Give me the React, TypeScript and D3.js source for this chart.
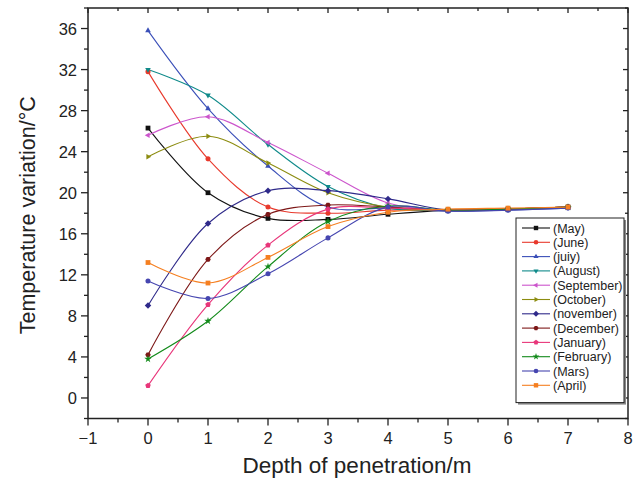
import { useEffect, useRef } from 'react';
import * as d3 from 'd3';

const DEPTHS = [0, 1, 2, 3, 4, 5, 6, 7];

const MONTHS = [
  '(May)', '(June)', '(juiy)', '(August)', '(September)', '(October)',
  '(november)', '(December)', '(January)', '(February)', '(Mars)', '(April)',
];

const COLORS = [
  '#111111', '#e8392c', '#3a4fb8', '#0f8a8a', '#cc55cc', '#8c8c10',
  '#2f2a8a', '#7d1818', '#e8367a', '#128a1a', '#4646b0', '#f57f20',
];

const SYMBOLS = [
  'square', 'circle', 'triUp', 'triDown', 'triLeft', 'triRight',
  'diamond', 'hexagon', 'pentagon', 'star', 'circle', 'square',
];

const MAY = [26.3, 20.0, 17.5, 17.4, 17.9, 18.3, 18.4, 18.6];
const JUNE = [31.8, 23.3, 18.6, 18.0, 18.3, 18.3, 18.4, 18.6];
const JULY = [35.8, 28.2, 22.6, 18.6, 18.5, 18.2, 18.3, 18.5];
const AUGUST = [32.0, 29.5, 24.7, 20.6, 18.5, 18.3, 18.4, 18.6];
const SEPTEMBER = [25.6, 27.4, 24.9, 21.9, 19.0, 18.3, 18.4, 18.6];
const OCTOBER = [23.5, 25.5, 22.9, 20.0, 18.6, 18.3, 18.4, 18.6];
const NOVEMBER = [9.0, 17.0, 20.2, 20.2, 19.4, 18.3, 18.4, 18.6];
const DECEMBER = [4.2, 13.5, 17.9, 18.8, 18.6, 18.3, 18.4, 18.6];
const JANUARY = [1.2, 9.1, 14.9, 18.4, 18.5, 18.3, 18.4, 18.6];
const FEBRUARY = [3.8, 7.5, 12.8, 17.2, 18.7, 18.3, 18.4, 18.6];
const MARS = [11.4, 9.7, 12.1, 15.6, 18.6, 18.2, 18.3, 18.5];
const APRIL = [13.2, 11.2, 13.7, 16.7, 18.1, 18.4, 18.5, 18.6];

const SERIES = [MAY, JUNE, JULY, AUGUST, SEPTEMBER, OCTOBER, NOVEMBER, DECEMBER, JANUARY, FEBRUARY, MARS, APRIL];

const X_TICKS = [-1, 0, 1, 2, 3, 4, 5, 6, 7, 8];
const Y_TICKS = [0, 4, 8, 12, 16, 20, 24, 28, 32, 36];

const W = 639;
const H = 479;
const FONT = 'Liberation Sans, Arial, sans-serif';

function symbolPath(kind: string, s: number): string {
  const poly = (n: number, rot: number, r: number) => {
    const pts: [number, number][] = [];
    for (let i = 0; i < n; i++) {
      const a = rot + (i * 2 * Math.PI) / n;
      pts.push([r * Math.cos(a), r * Math.sin(a)]);
    }
    return 'M' + pts.map((p) => p.join(',')).join('L') + 'Z';
  };
  switch (kind) {
    case 'square':
      return `M${-s},${-s}H${s}V${s}H${-s}Z`;
    case 'circle':
      return d3.symbol(d3.symbolCircle, Math.PI * s * s * 1.1)() as string;
    case 'triUp':
      return poly(3, -Math.PI / 2, s * 1.35);
    case 'triDown':
      return poly(3, Math.PI / 2, s * 1.35);
    case 'triLeft':
      return poly(3, Math.PI, s * 1.35);
    case 'triRight':
      return poly(3, 0, s * 1.35);
    case 'diamond':
      return poly(4, 0, s * 1.35);
    case 'hexagon':
      return poly(6, 0, s * 1.15);
    case 'pentagon':
      return poly(5, -Math.PI / 2, s * 1.2);
    case 'star':
      return d3.symbol(d3.symbolStar, s * s * 3)() as string;
    default:
      return `M${-s},${-s}H${s}V${s}H${-s}Z`;
  }
}

export default function App() {
  const svgRef = useRef<SVGSVGElement | null>(null);

  useEffect(() => {
    const svg = d3.select(svgRef.current);
    svg.selectAll('*').remove();

    const left = 88;
    const right = 628;
    const top = 8;
    const bottom = 418.5;

    const x = d3.scaleLinear().domain([-1, 8]).range([left, right]);
    const y = d3.scaleLinear().domain([-2, 38]).range([bottom, top]);

    const g = svg.append('g');

    // curves
    const line = d3
      .line<number>()
      .x((_, i) => x(DEPTHS[i]))
      .y((d) => y(d))
      .curve(d3.curveCatmullRom.alpha(0.5));

    SERIES.forEach((vals, k) => {
      g.append('path')
        .attr('d', line(vals))
        .attr('fill', 'none')
        .attr('stroke', COLORS[k])
        .attr('stroke-width', 1.1);
    });

    SERIES.forEach((vals, k) => {
      g.selectAll(null)
        .data(vals)
        .enter()
        .append('path')
        .attr('d', symbolPath(SYMBOLS[k], 2.4))
        .attr('transform', (d, i) => `translate(${x(DEPTHS[i])},${y(d)})`)
        .attr('fill', COLORS[k]);
    });

    // frame
    const axisStroke = '#222';
    g.append('rect')
      .attr('x', left)
      .attr('y', top)
      .attr('width', right - left)
      .attr('height', bottom - top)
      .attr('fill', 'none')
      .attr('stroke', axisStroke)
      .attr('stroke-width', 1.5);

    const xMajor = X_TICKS;
    const xMinor = d3.range(-0.5, 8, 1);
    const yMajor = Y_TICKS;
    const yMinor = d3.range(-2, 38.1, 4);

    const tick = (x1: number, y1: number, x2: number, y2: number) =>
      g.append('line')
        .attr('x1', x1).attr('y1', y1).attr('x2', x2).attr('y2', y2)
        .attr('stroke', axisStroke).attr('stroke-width', 1.3);

    xMajor.forEach((v) => {
      tick(x(v), bottom, x(v), bottom + 7);
      tick(x(v), top, x(v), top + 5);
    });
    xMinor.forEach((v) => {
      tick(x(v), bottom, x(v), bottom + 4);
      tick(x(v), top, x(v), top + 3);
    });
    yMajor.forEach((v) => {
      tick(left, y(v), left - 7, y(v));
      tick(right, y(v), right - 5, y(v));
    });
    yMinor.forEach((v) => {
      tick(left, y(v), left - 4, y(v));
      tick(right, y(v), right - 3, y(v));
    });

    g.selectAll(null)
      .data(xMajor)
      .enter()
      .append('text')
      .attr('x', (d) => x(d))
      .attr('y', bottom + 25)
      .attr('text-anchor', 'middle')
      .attr('font-family', FONT)
      .attr('font-size', 16.5)
      .attr('fill', '#222')
      .text((d) => (d < 0 ? '\u2212' + Math.abs(d) : String(d)));

    g.selectAll(null)
      .data(yMajor)
      .enter()
      .append('text')
      .attr('x', left - 11)
      .attr('y', (d) => y(d) + 6)
      .attr('text-anchor', 'end')
      .attr('font-family', FONT)
      .attr('font-size', 16.5)
      .attr('fill', '#222')
      .text((d) => String(d));

    g.append('text')
      .attr('x', (left + right) / 2 - 1)
      .attr('y', 473)
      .attr('text-anchor', 'middle')
      .attr('font-family', FONT)
      .attr('font-size', 22.5)
      .attr('fill', '#222')
      .text('Depth of penetration/m');

    g.append('text')
      .attr('transform', `translate(35,${(top + bottom) / 2 + 2}) rotate(-90)`)
      .attr('text-anchor', 'middle')
      .attr('font-family', FONT)
      .attr('font-size', 21.5)
      .attr('fill', '#222')
      .text('Temperature variation/\u00b0C');

    // legend
    const lx = 516;
    const ly = 218;
    const lw = 108;
    const rowH = 14.3;
    const lh = rowH * MONTHS.length + 13;
    g.append('rect')
      .attr('x', lx + 2)
      .attr('y', ly + 2)
      .attr('width', lw)
      .attr('height', lh)
      .attr('fill', '#888');
    g.append('rect')
      .attr('x', lx)
      .attr('y', ly)
      .attr('width', lw)
      .attr('height', lh)
      .attr('fill', '#fff')
      .attr('stroke', '#222')
      .attr('stroke-width', 1);

    MONTHS.forEach((m, k) => {
      const cy = ly + 10 + k * rowH;
      g.append('line')
        .attr('x1', lx + 6)
        .attr('x2', lx + 34)
        .attr('y1', cy)
        .attr('y2', cy)
        .attr('stroke', COLORS[k])
        .attr('stroke-width', 1.1);
      g.append('path')
        .attr('d', symbolPath(SYMBOLS[k], 2.2))
        .attr('transform', `translate(${lx + 20},${cy})`)
        .attr('fill', COLORS[k]);
      g.append('text')
        .attr('x', lx + 37)
        .attr('y', cy + 4.5)
        .attr('font-family', FONT)
        .attr('font-size', 12.5)
        .attr('fill', '#222')
        .text(m);
    });
  }, []);

  return (
    <svg
      ref={svgRef}
      width={W}
      height={H}
      style={{ position: 'absolute', left: 0, top: 0, background: '#fff' }}
    />
  );
}
